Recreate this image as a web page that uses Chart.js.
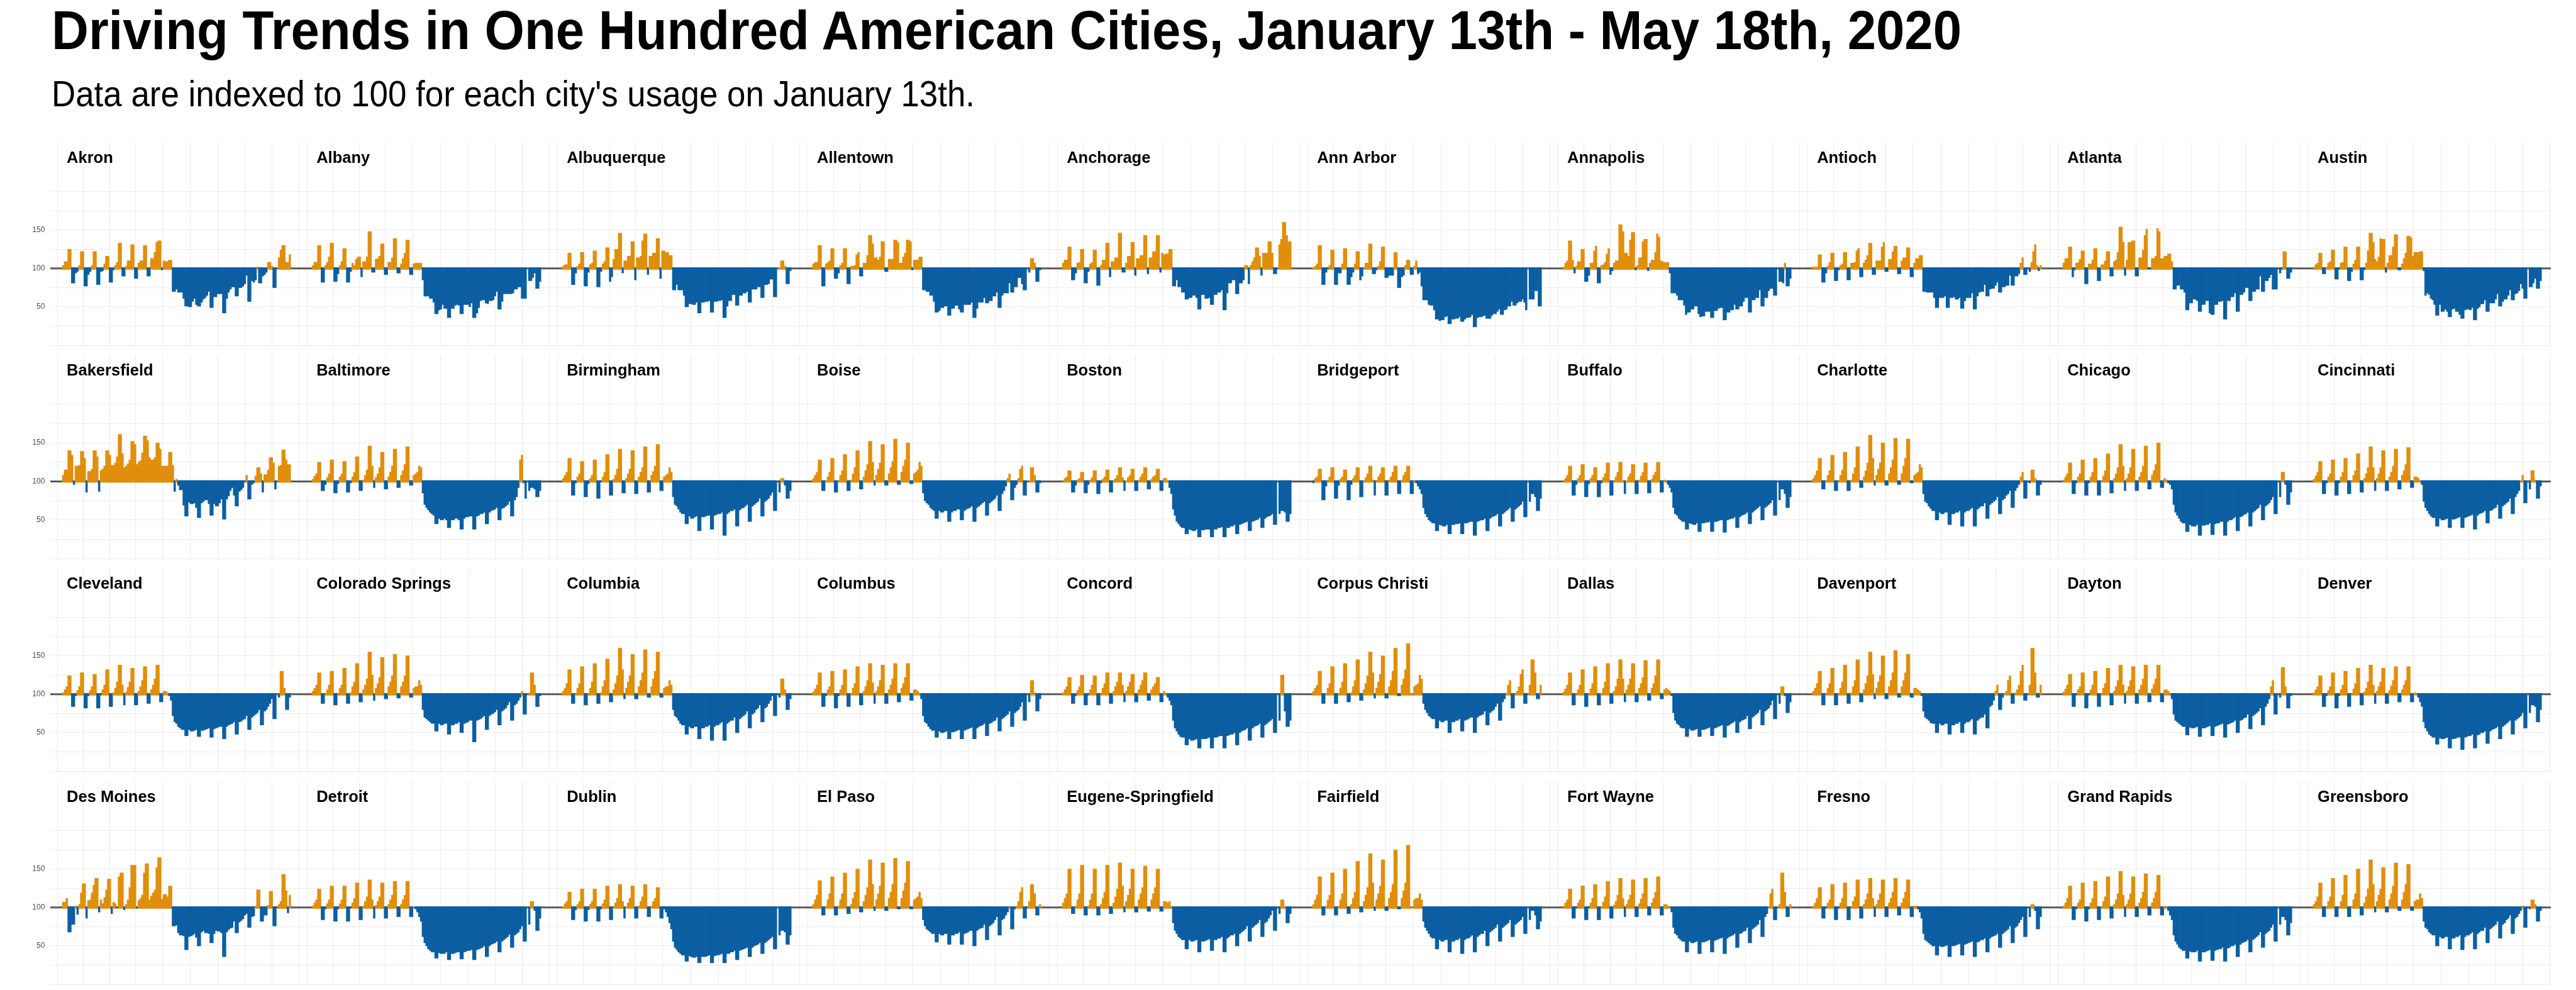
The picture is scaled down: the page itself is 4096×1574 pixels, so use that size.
<!DOCTYPE html>
<html>
<head>
<meta charset="utf-8">
<script src="https://cdn.jsdelivr.net/npm/chart.js@4.4.1/dist/chart.umd.min.js"></script>
<style>
  html, body { margin: 0; padding: 0; background: #ffffff; }
  body { width: 4096px; height: 1574px; position: relative; overflow: hidden; }
  .hdr { position: absolute; white-space: nowrap; transform-origin: 0 0; color: #000; line-height: 1; }
  #title { left: 82px; top: 4px; font-family: "Liberation Sans Narrow", "Liberation Sans", sans-serif; font-weight: bold; font-size: 88px; }
  #subtitle { left: 82px; top: 121px; font-family: "Liberation Sans Narrow", "Liberation Sans", sans-serif; font-weight: normal; font-size: 57px; }
  canvas { position: absolute; }
</style>
</head>
<body>
<div id="title" class="hdr">Driving Trends in One Hundred American Cities, January 13th - May 18th, 2020</div>
<div id="subtitle" class="hdr">Data are indexed to 100 for each city's usage on January 13th.</div>
<script>
// ---------------- DATA ----------------
const cityNames = [
  'Akron','Albany','Albuquerque','Allentown','Anchorage','Ann Arbor','Annapolis','Antioch','Atlanta','Austin',
  'Bakersfield','Baltimore','Birmingham','Boise','Boston','Bridgeport','Buffalo','Charlotte','Chicago','Cincinnati',
  'Cleveland','Colorado Springs','Columbia','Columbus','Concord','Corpus Christi','Dallas','Davenport','Dayton','Denver',
  'Des Moines','Detroit','Dublin','El Paso','Eugene-Springfield','Fairfield','Fort Wayne','Fresno','Grand Rapids','Greensboro'
];
// driving index per day slot, Jan 13 .. May 18, 2020 (null = no data)
const akron = [104,109,109,125,125,81,81, 94,96,104,122,122,77,77, 92,96,104,122,122,79,79, 96,97,106,116,116,82,82,
  98,104,108,133,133,90,90, 103,110,110,131,131,87,87, 107,110,110,130,130,90,90, 113,113,121,134,136,136,98,
  110,109,109,111,111,70,70, 73,69,69,69,61,51,51, 50,50,57,61,53,51,51, 56,60,62,65,70,49,49,
  63,63,67,67,67,42,42, 61,69,73,76,76,64,64, 75,75,77,80,91,57,57, 84,82,85,102,81,81,90,
  92,95,108,108,103,75,75, null,114,124,130,130,108,108,118];
const albany = [104,108,108,130,130,82,82, 104,108,115,133,133,83,83, 93,104,109,126,126,82,82, 96,107,104,112,115,115,89,
  109,109,115,148,148,95,95, 112,113,116,132,132,92,92, 108,108,114,139,139,94,94, 106,113,120,137,137,92,92,
  106,107,107,107,107,85,64, 64,64,61,61,56,41,41, 46,47,53,48,48,36,36, 48,48,52,53,52,41,41,
  53,53,53,50,55,36,36, 42,49,58,59,59,55,54, 58,58,59,64,70,47,47, 57,67,67,67,67,67,68,
  73,73,76,76,61,61,61, null,84,84,88,94,74,74,83];
const albuquerque = [103,105,105,120,120,79,79, 94,103,106,121,121,77,77, 95,105,107,123,123,76,76, 96,106,109,127,127,83,89,
  112,125,125,146,146,94,110, 110,116,116,135,135,85,114, 114,116,136,145,145,92,116, 116,120,120,139,139,87,123,
  123,121,121,117,117,72,72, 79,72,72,72,65,50,50, 54,54,53,53,56,42,42, 56,56,57,57,58,43,43,
  57,57,58,58,59,36,36, 51,58,58,66,66,52,52, 65,65,68,68,70,56,56, 73,73,73,76,76,62,62,
  79,79,80,86,86,63,63, null,101,110,110,103,80,80,97];
const allentown = [106,108,108,130,130,77,77, 106,108,110,126,126,87,87, 94,104,107,126,126,80,80, 103,103,104,118,121,90,90,
  107,107,117,143,143,132,114, 114,111,115,135,135,96,96, 112,112,112,137,137,134,107, 107,115,120,137,137,135,98,
  111,111,111,115,115,72,72, 70,70,65,65,57,43,43, 45,49,49,51,51,39,39, 48,48,52,52,47,43,43,
  53,53,53,53,56,36,36, 48,56,56,56,62,55,55, 58,58,64,64,69,49,49, 65,68,68,68,81,69,69,
  76,76,88,88,80,72,72, null,95,113,113,107,83,83,98];
const anchorage = [107,111,111,128,128,85,85, 94,107,108,125,125,81,81, 96,106,108,124,124,78,78, 104,111,111,133,133,89,109,
  109,114,114,146,146,95,95, 107,116,116,134,134,91,113, 113,117,117,143,143,93,114, 114,122,122,143,143,95,120,
  118,119,119,125,125,77,77, 85,76,76,69,69,60,60, 62,62,65,65,62,47,47, 66,66,61,61,62,53,53,
  66,66,69,69,72,46,46, 68,81,81,85,85,67,67, 81,81,85,104,104,80,104, 109,114,127,127,116,91,120,
  120,120,135,135,120,93,93, null,131,138,160,160,143,135,135];
const annArbor = [101,103,106,130,130,79,79, 95,99,104,124,124,79,79, 94,94,106,126,126,79,79, 89,95,106,122,122,85,90,
  100,107,107,132,132,93,93, 98,103,109,128,128,88,88, 91,91,91,121,121,75,75, 89,91,104,111,111,92,92,
  103,110,93,95,77,59,59, 59,53,52,52,46,34,34, 32,33,33,37,38,28,28, 34,34,35,35,37,31,31,
  34,36,36,37,40,24,24, 36,37,37,38,39,35,35, 35,39,41,41,44,47,40, 40,46,47,51,51,57,52,
  52,55,57,57,60,56,46, null,60,60,60,71,71,51,51];
const annapolis = [102,107,110,136,136,111,94, 103,109,109,125,125,83,83, 91,107,107,123,129,81,81, 104,105,108,119,126,92,97,
  107,110,110,157,157,148,120, 120,116,137,147,147,98,104, 114,114,135,138,138,97,107, 111,111,121,145,141,110,109,
  108,108,108,94,68,68,68, 65,59,59,59,52,40,43, 43,47,47,51,51,41,37, 38,38,44,44,44,36,36,
  45,45,48,49,49,33,33, 43,43,46,46,53,47,47, 51,51,57,62,62,43,43, 59,59,62,62,72,51,51,
  62,62,71,74,74,65,65, null,83,83,81,107,77,77,87];
const antioch = [102,102,102,118,118,82,82, 94,103,108,120,120,84,84, 98,104,106,121,121,85,85, 107,107,108,123,126,89,89,
  107,111,117,133,133,92,92, 110,110,110,128,134,96,96, 112,112,122,129,129,93,93, 110,114,114,127,127,89,89,
  107,113,113,117,117,70,70, 69,69,69,69,62,49,49, 62,62,62,64,49,49,62, 62,63,60,60,62,48,48,
  58,62,62,62,68,47,47, 64,69,70,70,79,64,64, 73,74,74,78,82,69,69, 76,76,78,78,91,78,78,
  90,90,93,107,114,92,92, null,96,108,122,131,104,97,104];
const atlanta = [107,113,113,128,128,89,98, 107,108,112,123,123,80,80, 106,106,111,126,126,84,84, 105,105,110,122,122,90,90,
  109,111,121,154,154,134,91, 111,134,134,136,136,90,90, 114,114,124,143,151,99,99, 113,113,116,152,148,113,113,
  116,116,119,119,109,73,73, 78,78,73,73,69,46,46, 55,55,60,60,58,44,44, 53,53,58,58,42,40,40,
  53,53,57,57,58,34,34, 58,58,63,63,68,44,44, 66,66,69,75,75,58,58, 70,70,73,73,90,70,70,
  84,84,88,92,73,73,73, null,94,99,122,122,87,87,95];
const austin = [100,105,107,120,120,93,93, 102,107,109,124,124,86,86, 99,107,108,128,128,84,84, 96,106,111,128,128,85,85,
  98,107,123,146,146,134,112, 109,115,139,138,138,95,107, 117,117,128,144,144,98,98, 106,113,120,142,142,140,116,
  121,121,121,122,122,97,65, 68,66,61,59,53,39,39, 53,44,44,47,44,37,37, 47,48,44,44,40,35,35,
  46,47,47,46,49,33,33, 48,50,54,54,59,44,44, 55,55,55,60,67,51,51, 57,60,60,65,72,59,59,
  67,68,71,80,74,61,61, null,76,76,81,87,74,74,84];
const bakersfield = [108,115,115,140,140,134,96, 120,120,121,139,139,130,86, 113,113,116,140,140,132,87, 114,116,120,140,140,134,121,
  121,124,132,161,161,136,118, 120,123,128,152,152,148,122, 125,127,137,159,159,153,131, 128,128,131,150,150,142,120,
  120,120,120,138,138,121,87, 103,95,89,89,69,55,55, 73,71,71,72,66,53,53, 72,74,76,76,71,56,56,
  71,68,68,72,77,51,51, 77,81,88,92,82,68,68, 87,89,92,99,108,77,77, 96,98,107,118,118,110,86,
  109,109,115,131,131,124,90, null,120,121,141,141,128,122,122];
const baltimore = [103,107,110,125,125,88,88, 96,105,110,128,128,85,85, 97,106,110,126,126,86,86, 98,106,112,132,132,88,88,
  102,108,115,146,146,120,92, 105,110,118,138,138,90,90, 106,112,120,142,142,92,92, 108,114,122,145,145,95,95,
  108,110,112,120,118,85,70, 66,63,60,58,56,45,45, 52,50,50,52,50,40,40, 50,50,52,52,50,38,38,
  52,54,54,55,55,38,38, 55,56,58,58,60,45,45, 60,62,63,64,66,50,50, 65,66,68,70,74,55,55,
  76,80,92,128,134,98,78, null,88,92,92,90,80,80,88];
const birmingham = [104,108,112,130,130,82,82, 98,106,110,126,126,80,80, 97,104,108,128,128,78,78, 99,106,112,135,135,82,82,
  103,108,116,142,142,85,85, 104,110,116,140,140,84,84, 106,112,118,145,145,86,86, 108,113,120,148,148,88,88,
  106,108,110,118,112,80,70, 68,64,60,58,58,45,45, 55,52,52,54,55,36,36, 54,54,55,56,56,38,38,
  56,57,58,58,60,30,30, 58,60,62,62,64,42,42, 63,65,66,68,70,48,48, 68,70,72,74,78,55,55,
  74,76,78,82,86,62,62, null,86,104,104,95,78,78,88];
const boise = [104,108,112,128,128,88,88, 100,106,112,130,130,86,86, 100,108,114,135,135,88,88, 102,110,118,140,140,90,90,
  106,114,122,152,152,125,95, 108,116,124,148,148,95,95, 110,118,126,155,155,96,96, 112,120,128,150,150,97,97,
  110,112,115,125,120,85,75, 72,70,66,64,62,52,52, 62,60,60,62,62,48,48, 60,62,62,64,64,50,50,
  62,64,65,66,68,48,48, 66,68,70,72,74,56,56, 72,74,76,78,82,62,62, 84,88,94,104,110,76,76,
  92,96,104,116,120,82,82, null,100,118,118,108,86,86,98];
const boston = [100,104,106,114,114,86,86, 95,102,104,112,112,85,85, 96,102,105,114,114,84,84, 98,103,106,115,115,86,86,
  100,104,108,118,118,105,88, 101,105,108,116,116,88,88, 102,106,110,118,118,90,90, 103,106,108,116,116,88,88,
  104,104,100,92,84,64,56, 48,45,42,40,40,32,32, 38,37,36,36,38,28,28, 37,37,38,38,38,28,28,
  38,38,40,40,41,28,28, 40,40,42,42,44,32,32, 44,45,46,47,48,36,36, 48,49,50,51,53,40,40,
  52,54,55,56,58,44,44, null,58,62,62,60,48,48,58];
const bridgeport = [98,104,106,116,116,76,76, 94,102,106,118,118,78,78, 95,103,106,115,115,76,76, 96,104,108,118,118,80,80,
  100,105,110,120,120,102,82, 100,106,110,118,118,82,82, 102,106,112,120,120,84,84, 102,108,112,120,120,84,84,
  100,98,94,90,84,66,58, 54,50,48,46,46,36,36, 44,43,42,42,44,32,32, 44,44,45,45,46,32,32,
  46,46,47,48,48,30,30, 48,49,50,50,52,36,36, 52,54,55,56,58,42,42, 58,60,62,64,66,48,48,
  64,66,68,70,74,54,54, null,74,84,84,80,62,62,78];
const buffalo = [100,104,108,120,120,82,82, 96,104,108,122,122,80,80, 97,104,108,118,118,80,80, 98,105,110,124,124,82,82,
  100,106,112,125,125,100,84, 101,106,110,122,122,84,84, 102,107,112,124,124,85,85, 103,108,112,125,125,86,86,
  102,100,96,92,86,66,58, 56,52,50,48,48,38,38, 46,45,44,44,46,35,35, 46,46,47,47,48,35,35,
  48,48,49,50,50,34,34, 50,51,52,52,54,40,40, 54,56,57,58,60,45,45, 60,62,64,66,68,50,50,
  66,68,70,72,76,56,56, null,76,90,90,84,66,66,80];
const charlotte = [104,108,114,130,130,90,90, 100,108,114,134,134,88,88, 100,108,115,138,138,88,88, 102,110,118,145,145,92,92,
  106,114,124,160,160,130,95, 108,116,124,150,150,95,95, 110,118,128,156,156,96,96, 110,120,130,155,155,98,98,
  108,110,112,122,118,84,74, 72,68,65,62,62,50,50, 60,58,58,60,60,44,44, 58,58,60,60,62,42,42,
  60,62,62,64,66,42,42, 64,66,68,68,72,52,52, 70,72,74,76,80,58,58, 76,78,82,84,88,66,66,
  88,92,96,106,112,78,78, null,98,115,115,104,82,82,96];
const chicago = [102,106,110,124,124,84,84, 98,106,110,128,128,82,82, 98,106,112,130,130,82,82, 100,107,114,136,136,85,85,
  104,110,118,148,148,120,88, 104,110,118,142,142,88,88, 106,112,120,146,146,90,90, 108,114,122,150,150,92,92,
  104,102,98,96,90,70,60, 56,52,48,46,46,35,35, 44,42,42,42,44,30,30, 43,43,44,44,46,31,31,
  45,46,46,48,48,30,30, 48,50,50,52,54,36,36, 54,55,57,58,60,42,42, 60,62,64,66,70,50,50,
  68,70,72,76,80,58,58, null,80,112,112,96,70,70,86];
const cincinnati = [103,107,112,126,126,84,84, 98,106,110,128,128,82,82, 98,106,112,130,130,84,84, 100,108,114,136,136,86,86,
  104,110,118,145,145,118,88, 104,110,118,140,140,88,88, 106,112,120,142,142,90,90, 108,114,122,144,144,92,92,
  106,106,104,100,96,74,66, 62,58,55,53,53,42,42, 52,50,50,51,52,40,40, 51,51,52,53,54,40,40,
  53,54,55,56,57,38,38, 56,58,59,60,62,46,46, 62,63,65,66,70,52,52, 68,70,72,74,78,58,58,
  80,84,88,100,108,72,72, null,90,114,114,102,78,78,94];
const cleveland = [102,106,110,124,124,84,84, 98,105,110,128,128,82,82, 98,105,110,126,126,82,82, 99,106,112,132,132,84,84,
  102,108,116,138,138,112,86, 103,109,116,134,134,86,86, 104,110,118,136,136,88,88, 106,112,120,138,138,90,90,
  104,104,102,98,92,72,64, 62,58,56,54,54,46,46, 54,52,52,53,54,45,45, 53,53,54,55,56,44,44,
  55,56,57,58,58,42,42, 58,60,61,62,64,48,48, 64,65,67,68,72,54,54, 70,72,74,76,80,60,60,
  78,80,84,88,94,68,68, null,96,130,130,108,80,80,96];
const coloradoSprings = [104,108,112,128,128,88,88, 100,106,112,130,130,86,86, 100,108,112,134,134,88,88, 102,110,116,140,140,90,90,
  106,112,120,155,155,125,92, 108,114,122,148,148,94,94, 110,116,124,152,152,95,95, 110,116,124,150,150,96,96,
  108,110,110,118,112,80,70, 68,66,64,62,62,52,52, 62,60,60,62,62,48,48, 60,60,62,62,64,50,50,
  62,63,64,66,66,38,38, 66,67,68,70,72,54,54, 72,74,75,77,80,60,60, 78,80,82,86,90,66,66,
  86,88,92,96,104,74,74, null,100,128,128,112,84,84,98];
const columbia = [104,108,114,132,132,88,88, 100,108,114,136,136,86,86, 100,108,116,140,140,88,88, 102,110,118,146,146,90,90,
  106,114,124,160,160,132,94, 108,116,124,152,152,94,94, 110,118,128,158,158,96,96, 110,120,130,155,155,96,96,
  108,110,110,118,112,80,72, 70,66,62,60,60,48,48, 58,56,56,58,58,42,42, 56,56,58,58,60,40,40,
  58,60,60,62,64,40,40, 62,64,66,66,70,50,50, 68,70,72,74,78,56,56, 74,76,80,82,86,64,64,
  82,84,88,92,98,72,72, null,96,120,120,106,80,80,94];
const columbus = [103,107,112,128,128,84,84, 98,106,110,130,130,82,82, 98,106,112,132,132,84,84, 100,108,114,136,136,86,86,
  104,110,118,140,140,115,88, 104,110,118,138,138,88,88, 106,112,120,140,140,90,90, 108,114,122,140,140,92,92,
  106,106,104,100,94,72,64, 62,58,55,53,53,44,44, 52,50,50,51,52,42,42, 51,51,52,53,54,42,42,
  53,54,55,56,57,42,42, 56,58,59,60,62,46,46, 62,63,65,66,70,52,52, 68,70,72,74,78,58,58,
  76,78,80,84,90,66,66, null,90,118,118,102,78,78,94];
const concord = [102,106,110,122,122,88,88, 98,105,110,125,125,86,86, 99,106,112,124,124,86,86, 100,108,114,128,128,88,88,
  104,110,116,128,128,112,90, 104,110,116,126,126,90,90, 106,112,118,128,128,92,92, 106,110,114,122,122,90,90,
  104,100,96,92,86,66,56, 52,48,45,44,44,34,34, 42,40,40,41,42,30,30, 42,42,42,43,44,30,30,
  44,44,45,46,46,30,30, 46,47,48,48,50,34,34, 50,52,53,54,56,40,40, 56,58,59,60,62,44,44,
  60,62,64,66,68,50,50, null,66,125,125,78,58,58,66];
const corpusChristi = [104,108,112,130,130,88,88, 100,108,114,136,136,88,88, 100,108,116,140,140,90,90, 102,110,118,145,145,92,92,
  106,114,124,155,155,128,95, 108,116,126,150,150,95,95, 110,118,130,160,160,98,98, 112,120,132,166,166,100,100,
  110,112,114,125,120,88,80, 76,72,70,68,68,56,56, 66,64,64,66,66,50,50, 64,64,66,66,68,52,52,
  66,67,68,70,70,50,50, 70,72,73,74,78,60,60, 76,78,80,84,88,66,66, 90,94,100,112,118,82,82,
  100,104,110,126,132,88,88, null,112,145,145,128,94,94,112];
const dallas = [103,107,112,128,128,86,86, 100,106,112,132,132,84,84, 100,107,114,136,136,86,86, 101,108,116,140,140,88,88,
  104,110,120,145,145,120,90, 106,112,120,140,140,90,90, 108,114,122,144,144,92,92, 108,114,124,145,145,94,94,
  106,108,106,104,98,76,66, 62,60,57,56,56,45,45, 55,53,53,54,55,45,45, 54,54,55,56,57,46,46,
  56,57,58,59,60,44,44, 59,60,62,63,65,50,50, 64,66,67,68,72,55,55, 70,72,74,76,80,60,60,
  78,80,82,86,92,68,68, null,88,110,110,98,76,76,90];
const davenport = [104,108,114,130,130,86,86, 100,108,114,134,134,86,86, 100,108,116,138,138,88,88, 102,110,118,145,145,90,90,
  106,114,124,155,155,126,94, 108,116,124,150,150,94,94, 110,118,128,157,157,96,96, 110,118,128,152,152,96,96,
  108,108,106,104,98,78,70, 68,66,63,62,62,50,50, 62,60,60,62,62,48,48, 60,60,62,62,64,50,50,
  62,64,64,66,68,48,48, 66,68,70,70,74,56,56, 84,86,92,104,112,80,80, 96,100,104,118,124,88,88,
  102,106,112,130,138,92,92, null,112,160,160,128,96,96,112];
const dayton = [103,107,112,126,126,84,84, 99,106,110,128,128,82,82, 99,106,112,130,130,84,84, 100,108,114,134,134,86,86,
  104,110,118,138,138,112,88, 104,110,118,136,136,88,88, 106,112,120,138,138,90,90, 107,113,120,138,138,90,90,
  106,106,104,100,94,74,66, 64,62,60,58,58,47,47, 57,56,56,57,58,45,45, 56,56,57,58,59,46,46,
  58,59,60,61,62,44,44, 61,62,63,64,66,50,50, 66,67,69,70,74,55,55, 72,74,76,78,82,60,60,
  84,88,94,110,118,74,74, null,96,135,135,110,82,82,98];
const denver = [102,106,110,124,124,84,84, 98,105,110,128,128,82,82, 98,106,112,130,130,84,84, 100,107,114,134,134,86,86,
  103,108,116,138,138,112,88, 104,110,116,134,134,88,88, 105,111,118,136,136,90,90, 106,112,118,136,136,90,90,
  102,100,96,90,84,64,56, 52,48,46,44,44,35,35, 43,42,42,43,44,30,30, 42,42,43,44,44,28,28,
  44,45,46,46,48,30,30, 47,48,50,50,52,36,36, 52,54,55,56,58,42,42, 58,60,62,64,66,48,48,
  66,68,70,72,76,56,56, null,76,86,86,84,64,64,80];
const desMoines = [107,107,112,68,68,78,78, 102,91,104,119,131,131,86, 109,110,119,129,138,138,94, 110,105,113,123,137,137,92,
  107,105,99,140,145,145,97, 104,110,126,155,155,155,99, 109,112,116,145,157,157,110, 115,119,123,152,165,165,111,
  117,117,114,128,128,76,76, 77,67,64,64,63,45,45, 62,63,64,66,61,50,50, 68,70,67,67,66,54,54,
  66,70,69,69,67,36,36, 68,71,73,74,82,67,67, 81,83,85,90,92,74,74, 88,89,102,123,123,82,82,
  90,90,103,121,121,76,76, null,104,108,143,143,122,93,116];
const detroit = [102,106,110,124,124,84,84, 98,105,110,128,128,82,82, 98,105,110,128,128,82,82, 99,106,112,132,132,84,84,
  102,108,114,136,136,110,86, 103,108,114,132,132,86,86, 104,110,116,134,134,88,88, 104,110,116,134,134,88,88,
  100,98,94,88,82,62,54, 50,46,44,42,42,34,34, 41,40,40,40,42,32,32, 40,40,41,42,42,33,33,
  42,43,44,44,45,32,32, 45,46,47,48,50,36,36, 50,52,53,54,56,42,42, 56,58,60,62,65,48,48,
  64,66,68,72,76,56,56, null,78,108,108,96,70,70,86];
const dublin = [101,105,108,120,120,84,84, 97,104,108,124,124,82,82, 97,104,108,124,124,82,82, 98,105,110,128,128,84,84,
  100,106,112,130,130,108,86, 101,106,112,128,128,86,86, 102,108,114,130,130,88,88, 102,108,112,126,126,86,86,
  98,94,88,80,72,56,48, 45,42,40,38,38,30,30, 37,36,35,35,36,28,28, 36,36,36,37,38,28,28,
  37,38,38,39,40,28,28, 40,40,42,42,44,32,32, 44,45,46,47,48,36,36, 48,50,51,52,54,40,40,
  54,56,58,60,62,46,46, null,64,70,70,68,52,52,64];
const elPaso = [104,110,116,135,135,90,90, 102,110,118,140,140,90,90, 102,110,118,145,145,92,92, 104,112,120,150,150,94,94,
  108,116,126,162,162,130,96, 110,118,128,158,158,96,96, 112,120,130,164,164,98,98, 112,122,132,160,160,98,98,
  110,112,114,120,112,84,76, 72,70,68,66,66,55,55, 66,64,64,66,66,52,52, 64,64,66,66,68,52,52,
  66,67,68,70,70,50,50, 70,72,73,74,78,58,58, 76,78,80,84,88,64,64, 84,86,90,94,100,72,72,
  98,102,108,120,126,86,86, null,108,130,130,118,90,90,104];
const eugeneSpringfield = [106,112,118,150,150,92,92, 102,110,118,155,155,90,90, 102,110,118,150,150,90,90, 104,112,120,155,155,92,92,
  106,114,124,158,158,128,94, 108,116,124,150,150,94,94, 110,118,126,154,154,95,95, 110,118,126,150,150,95,95,
  108,108,106,108,100,80,70, 66,62,60,58,58,46,46, 58,56,56,57,58,42,42, 56,56,57,58,59,44,44,
  58,58,60,60,62,42,42, 60,62,64,64,66,50,50, 66,68,70,72,76,56,56, 74,76,78,80,84,62,62,
  80,82,86,90,96,70,70, null,92,110,110,100,80,80,92];
const fairfield = [104,110,116,140,140,90,90, 102,110,116,145,145,90,90, 102,110,118,150,150,92,92, 104,112,120,160,160,94,94,
  108,116,126,170,170,132,96, 110,118,128,162,162,96,96, 112,120,130,175,175,98,98, 112,122,132,181,181,100,100,
  110,112,112,118,110,82,74, 70,66,62,60,60,46,46, 58,56,56,58,58,42,42, 56,56,58,58,60,40,40,
  58,60,60,62,64,42,42, 62,64,66,66,70,50,50, 68,70,72,74,78,56,56, 74,76,78,80,84,62,62,
  78,80,82,84,88,66,66, null,84,96,96,90,72,72,82];
const fortWayne = [102,106,110,124,124,86,86, 99,106,110,128,128,84,84, 99,106,112,130,130,84,84, 100,107,114,134,134,86,86,
  103,108,116,138,138,112,88, 104,110,116,136,136,88,88, 105,111,118,138,138,90,90, 106,112,120,140,140,90,90,
  104,104,102,100,94,74,66, 64,60,58,56,56,42,42, 56,54,54,55,56,40,40, 55,55,56,57,58,42,42,
  57,58,59,60,61,40,40, 60,62,63,64,66,48,48, 66,67,69,70,74,54,54, 72,74,76,78,84,62,62,
  88,92,100,118,124,84,84, null,104,145,145,120,88,88,104];
const fresno = [102,106,112,126,126,86,86, 99,106,110,130,130,84,84, 99,106,112,132,132,84,84, 100,108,114,136,136,86,86,
  104,110,118,138,138,112,88, 104,110,118,136,136,88,88, 106,112,120,138,138,90,90, 106,112,120,136,136,88,88,
  102,102,98,94,86,66,58, 56,54,52,50,50,38,38, 50,49,49,50,51,36,36, 50,50,51,52,53,38,38,
  52,53,54,55,56,36,36, 55,56,58,58,60,42,42, 60,62,63,64,66,48,48, 66,68,70,72,76,54,54,
  74,76,80,84,88,62,62, null,88,104,104,96,72,72,88];
const grandRapids = [102,106,112,128,128,84,84, 98,106,110,132,132,82,82, 98,106,112,134,134,84,84, 100,108,114,140,140,86,86,
  104,110,118,147,147,116,88, 104,110,118,140,140,88,88, 106,112,120,144,144,90,90, 106,112,120,142,142,90,90,
  102,100,96,90,84,64,56, 52,48,46,44,44,34,34, 43,42,42,42,44,30,30, 42,42,43,44,45,31,31,
  44,45,46,46,48,30,30, 47,48,50,50,52,36,36, 52,54,55,56,58,42,42, 58,60,62,64,68,48,48,
  66,68,70,74,78,56,56, null,78,88,88,84,64,64,80];
const greensboro = [104,108,114,132,132,88,88, 100,108,114,138,138,88,88, 100,108,116,142,142,88,88, 102,110,118,150,150,90,90,
  106,114,124,162,162,130,94, 108,116,124,152,152,94,94, 110,118,128,158,158,96,96, 110,120,130,156,156,96,96,
  108,110,110,118,112,82,74, 72,68,66,64,64,50,50, 62,60,60,62,62,46,46, 60,60,62,62,64,45,45,
  62,64,64,66,68,46,46, 66,68,70,70,74,54,54, 72,74,76,78,82,60,60, 78,80,84,86,90,66,66,
  86,88,92,96,102,74,74, null,98,110,110,104,82,82,96];

const cityValues = [akron, albany, albuquerque, allentown, anchorage, annArbor, annapolis, antioch, atlanta, austin,
  bakersfield, baltimore, birmingham, boise, boston, bridgeport, buffalo, charlotte, chicago, cincinnati,
  cleveland, coloradoSprings, columbia, columbus, concord, corpusChristi, dallas, davenport, dayton, denver,
  desMoines, detroit, dublin, elPaso, eugeneSpringfield, fairfield, fortWayne, fresno, grandRapids, greensboro];

// axis breaks
const startDate = '2020-01-13';
const dateBreaks = ['2020-01-17T12:00', '2020-02-01T00:00', '2020-02-15T12:00', '2020-03-01T00:00', '2020-03-16T12:00',
  '2020-04-01T00:00', '2020-04-16T00:00', '2020-05-01T00:00', '2020-05-16T00:00'];
const yGridValues = [0, 25, 50, 75, 100, 125, 150, 175, 200];
const yTickLabels = [50, 100, 150];

// ---------------- STYLE / LAYOUT ----------------
const ORANGE = '#E08E0B', BLUE = '#0B5EA1', BASELINE = '#5A5A5A', GRID = '#EBEBEB';
const S = 0.682;
const PANEL_LEFT0 = 116.7 * S, COL_PITCH = 583.1 * S;
const PANEL_TOP0 = 331 * S, ROW_PITCH = 496.5 * S, PANEL_H = 477 * S;
const XMIN = -6.667, XMAX = -6.667 + 583.1 / 4.2;
const YMIN = -1.6, YMAX = 264.3;
const HB = 1.5 / (PANEL_H / (YMAX - YMIN)); // half of baseline thickness in data units

const DAY = 86400000;
const t0 = new Date(startDate + 'T00:00:00Z').getTime();
const breakU = dateBreaks.map(d => (new Date(d + ':00Z').getTime() - t0) / DAY);

const decor = {
  id: 'decor',
  beforeDatasetsDraw(chart) {
    const { ctx, chartArea, scales } = chart;
    const y = scales.y.getPixelForValue(100);
    ctx.save();
    ctx.strokeStyle = BASELINE;
    ctx.lineWidth = 3;
    ctx.beginPath();
    ctx.moveTo(chartArea.left, y);
    ctx.lineTo(chartArea.right, y);
    ctx.stroke();
    ctx.restore();
  },
  afterDatasetsDraw(chart, args, opts) {
    const { ctx, scales, chartArea } = chart;
    ctx.save();
    ctx.fillStyle = '#000000';
    ctx.font = 'bold 25.5px "Liberation Sans", Arial, sans-serif';
    ctx.textAlign = 'left';
    ctx.textBaseline = 'alphabetic';
    ctx.fillText(opts.name, scales.x.getPixelForValue(2.45), scales.y.getPixelForValue(237));
    if (opts.showY) {
      ctx.fillStyle = '#4D4D4D';
      ctx.font = '12px "Liberation Sans Narrow", "Liberation Sans", sans-serif';
      ctx.textAlign = 'right';
      ctx.textBaseline = 'middle';
      yTickLabels.forEach(v => ctx.fillText(String(v), chartArea.left - 8.7, scales.y.getPixelForValue(v)));
    }
    ctx.restore();
  }
};

function makePanel(idx) {
  const r = Math.floor(idx / 10), c = idx % 10;
  const left = Math.round(PANEL_LEFT0 + COL_PITCH * c);
  const right = Math.round(PANEL_LEFT0 + COL_PITCH * (c + 1));
  const top = Math.round(PANEL_TOP0 + ROW_PITCH * r);
  const bottom = Math.round(PANEL_TOP0 + ROW_PITCH * r + PANEL_H);
  const canvasLeft = c === 0 ? 0 : left;
  const padL = left - canvasLeft;
  const w = right - canvasLeft, h = bottom - top;
  const cv = document.createElement('canvas');
  cv.width = w; cv.height = h;
  cv.style.left = canvasLeft + 'px'; cv.style.top = top + 'px';
  cv.style.width = w + 'px'; cv.style.height = h + 'px';
  document.body.appendChild(cv);

  const vals = cityValues[idx];
  const pts = [], cols = [];
  vals.forEach((v, j) => {
    if (v === null || v === undefined) return;
    const up = v >= 100;
    pts.push({ x: j + 0.5, y: [up ? 100 - HB : 100 + HB, v] });
    cols.push(up ? ORANGE : BLUE);
  });

  new Chart(cv, {
    type: 'bar',
    data: { datasets: [{ data: pts, backgroundColor: cols, borderWidth: 0, barPercentage: 1, categoryPercentage: 1 }] },
    options: {
      responsive: false, animation: false, devicePixelRatio: 1,
      layout: { padding: { left: padL, right: 0, top: 0, bottom: 0 } },
      plugins: { legend: { display: false }, tooltip: { enabled: false }, title: { display: false },
                 decor: { name: cityNames[idx], showY: c === 0 } },
      scales: {
        x: { type: 'linear', min: XMIN, max: XMAX, offset: false,
             border: { display: false },
             grid: { color: GRID, lineWidth: 1, drawTicks: false },
             ticks: { display: false },
             afterBuildTicks: s => { s.ticks = breakU.map(v => ({ value: v })); },
             afterFit: s => { s.height = 0; } },
        y: { type: 'linear', min: YMIN, max: YMAX,
             border: { display: false },
             grid: { color: GRID, lineWidth: 1, drawTicks: false },
             ticks: { display: false },
             afterBuildTicks: s => { s.ticks = yGridValues.map(v => ({ value: v })); },
             afterFit: s => { s.width = 0; } }
      }
    },
    plugins: [decor]
  });
}

for (let i = 0; i < cityNames.length; i++) makePanel(i);

function fitHeader(id, targetWidth) {
  const el = document.getElementById(id);
  el.style.transform = 'none';
  const w = el.getBoundingClientRect().width;
  if (w > 0) el.style.transform = 'scaleX(' + (targetWidth / w) + ')';
}
function fitAll() { fitHeader('title', 3037); fitHeader('subtitle', 1468); }
fitAll();
if (document.fonts && document.fonts.ready) document.fonts.ready.then(fitAll);
</script>
</body>
</html>
